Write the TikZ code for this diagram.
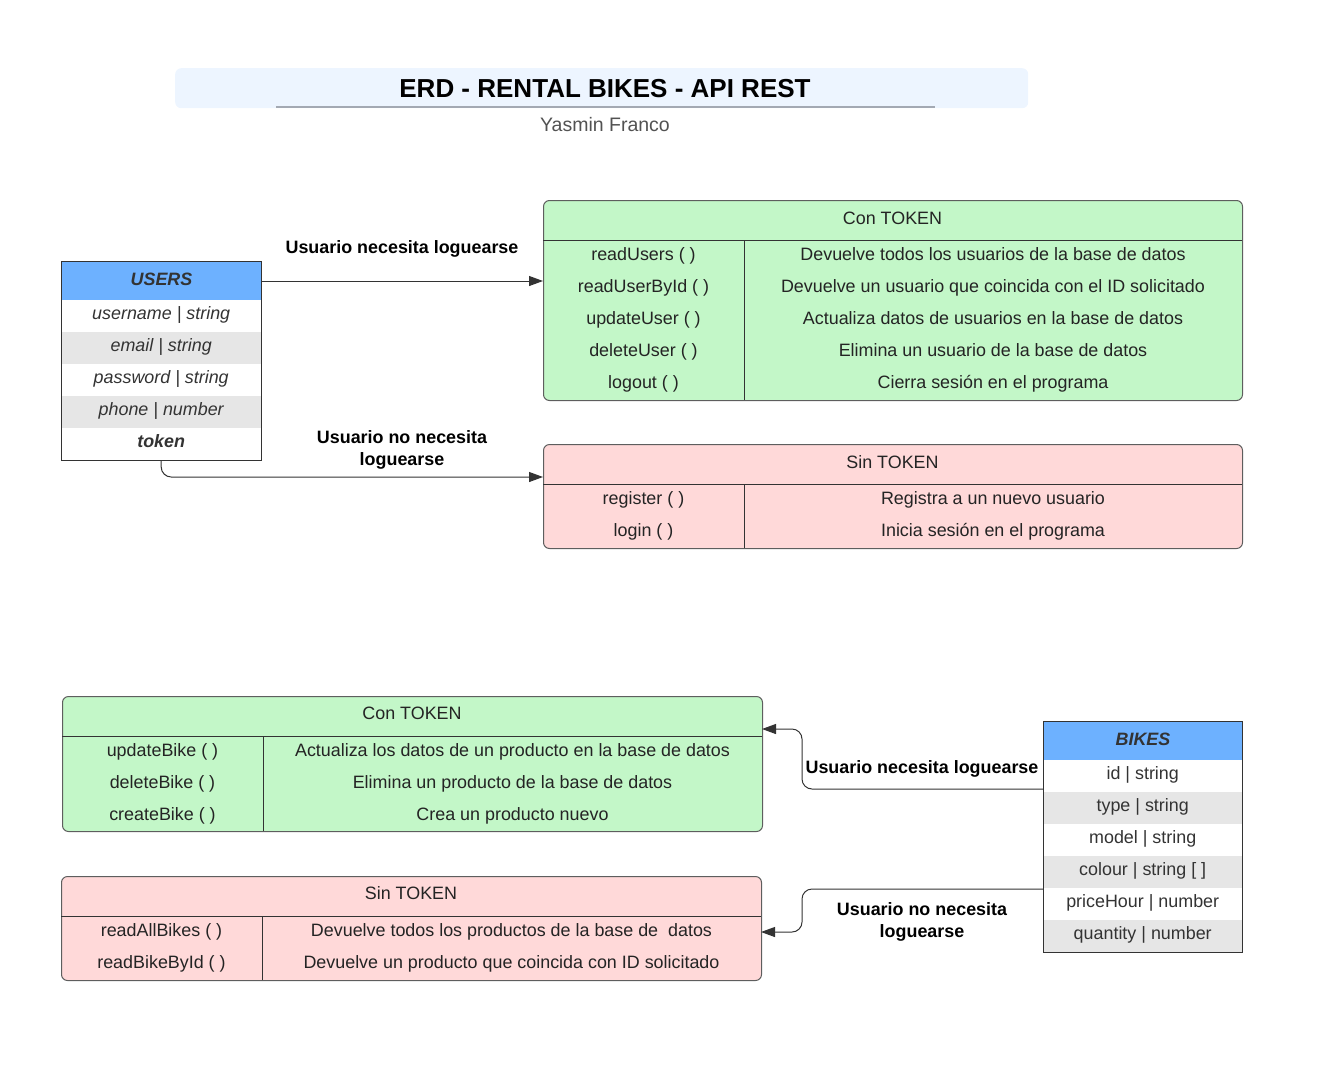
\documentclass[tikz,border=0pt]{standalone}
\usepackage{fontspec}
\setmainfont{Liberation Sans}
\usepackage{xcolor}
\usepackage{tikz}
\usetikzlibrary{arrows.meta}

\definecolor{titleBlue}{HTML}{EDF5FF}
\definecolor{hdrBlue}{HTML}{6DB1FF}
\definecolor{conGreen}{HTML}{C3F7C8}
\definecolor{sinPink}{HTML}{FFD9D9}
\definecolor{rowGray}{HTML}{E6E6E6}
\definecolor{txtGray}{HTML}{333333}
\definecolor{boxGray}{HTML}{5E5E5E}
\definecolor{ruleGray}{HTML}{A3A9B3}

\tikzset{
	txt/.style={font=\fontsize{17.9}{20}\selectfont, text=txtGray!70!black, inner sep=0.75pt},
	rowtxt/.style={txt, anchor=base},
	lbl/.style={font=\bfseries\fontsize{17.9}{22}\selectfont, align=center, inner sep=0.75pt},
	cell/.style={minimum width=200pt, minimum height=32pt, inner sep=0pt, anchor=north west, text=txtGray, text height=12.5pt, text depth=5.5pt, font=\fontsize{17.9}{20}\selectfont},
	hdr/.style={cell, draw=txtGray, line width=1pt, fill=hdrBlue, minimum height=39pt, text height=13pt, text depth=5pt, font=\bfseries\itshape\fontsize{17.9}{20}\selectfont},
	contab/.style={draw=boxGray, fill=conGreen, rounded corners=6pt, line width=1pt, inner sep=0pt, anchor=north west},
	sintab/.style={contab, fill=sinPink},
	sep/.style={draw=txtGray, line width=1pt},
	conn/.style={draw=txtGray, line width=1pt, rounded corners=10pt, -{Triangle[length=14pt,width=10pt]}},
}

\begin{document}
\begin{tikzpicture}[x=1pt,y=1pt,yscale=-1]
	\useasboundingbox (0,0) rectangle (1321,1076);
	
	%Title
	\node [fill=titleBlue, rounded corners=6pt, minimum width=853pt, minimum height=40pt, anchor=north west] (titlebox) at (175,68) {};
	\node [font=\bfseries\fontsize{26}{30}\selectfont] (title) at (605,89) {ERD - RENTAL BIKES - API REST};
	\draw [ruleGray, line width=1.5pt] (276,107) -- (935,107);
	\node [txt, text=txtGray!85!white, font=\fontsize{19.5}{22}\selectfont] (author) at (605,125) {Yasmin Franco};
	
	%Entity: USERS
	\node [hdr] (users) at (61,261) {USERS};
	\foreach \f/\c [count=\i] in {{username | string}/white, {email | string}/rowGray, {password | string}/white, {phone | number}/rowGray, {\textbf{token}}/white}
		\node [cell, fill=\c, font=\itshape\fontsize{17.9}{20}\selectfont] (users-\i) at (61,{300+32*(\i-1)}) {\f};
	\draw [sep] (users.north west) rectangle (users-5.south east);
	
	%Users: Con TOKEN
	\node [contab, minimum width=699pt, minimum height=200pt] (ucon) at (543,200) {};
	\node [txt] (ucon-t) at (892.5,218) {Con TOKEN};
	\draw [sep] (543,240) -- (1242,240) (744,240) -- (744,400);
	\foreach \m/\d [count=\i] in {readUsers ( )/Devuelve todos los usuarios de la base de datos, readUserById ( )/Devuelve un usuario que coincida con el ID solicitado, updateUser ( )/Actualiza datos de usuarios en la base de datos, deleteUser ( )/Elimina un usuario de la base de datos, logout ( )/Cierra sesión en el programa}
	{
		\node [rowtxt] (ucon-m\i) at (643.5,{260.5+32*(\i-1)}) {\m};
		\node [rowtxt] (ucon-d\i) at (993,{260.5+32*(\i-1)}) {\d};
	}
	
	%Users: Sin TOKEN
	\node [sintab, minimum width=699pt, minimum height=104pt] (usin) at (543,444) {};
	\node [txt] (usin-t) at (892.5,462) {Sin TOKEN};
	\draw [sep] (543,484) -- (1242,484) (744,484) -- (744,548);
	\foreach \m/\d [count=\i] in {register ( )/Registra a un nuevo usuario, login ( )/Inicia sesión en el programa}
	{
		\node [rowtxt] (usin-m\i) at (643.5,{504.5+32*(\i-1)}) {\m};
		\node [rowtxt] (usin-d\i) at (993,{504.5+32*(\i-1)}) {\d};
	}
	
	%Users connectors
	\coordinate (usin-in) at (543,477);
	\draw [conn] (users.east) -- (users.east -| ucon.west);
	\draw [conn] (users-5.south) |- (usin-in);
	\node [lbl] (lbl-u1) at (402,249) {Usuario necesita loguearse};
	\node [lbl] (lbl-u2) at (402,450) {Usuario no necesita\\loguearse};
	
	%Bikes: Con TOKEN
	\node [contab, minimum width=700pt, minimum height=135pt] (bcon) at (62,696) {};
	\node [txt] (bcon-t) at (412,713) {Con TOKEN};
	\draw [sep] (62,736) -- (762,736) (263,736) -- (263,831);
	\foreach \m/\d [count=\i] in {updateBike ( )/Actualiza los datos de un producto en la base de datos, deleteBike ( )/Elimina un producto de la base de datos, createBike ( )/Crea un producto nuevo}
	{
		\node [rowtxt] (bcon-m\i) at (162.5,{756.5+32*(\i-1)}) {\m};
		\node [rowtxt] (bcon-d\i) at (512.5,{756.5+32*(\i-1)}) {\d};
	}
	
	%Bikes: Sin TOKEN
	\node [sintab, minimum width=700pt, minimum height=104pt] (bsin) at (61,876) {};
	\node [txt] (bsin-t) at (411,893) {Sin TOKEN};
	\draw [sep] (61,916) -- (761,916) (262,916) -- (262,980);
	\foreach \m/\d [count=\i] in {readAllBikes ( )/Devuelve todos los productos de la base de~ datos, readBikeById ( )/Devuelve un producto que coincida con ID solicitado}
	{
		\node [rowtxt] (bsin-m\i) at (161.5,{936.5+32*(\i-1)}) {\m};
		\node [rowtxt] (bsin-d\i) at (511.5,{936.5+32*(\i-1)}) {\d};
	}
	
	%Entity: BIKES
	\node [hdr, minimum width=199pt] (bikes) at (1043,721) {BIKES};
	\foreach \f/\c [count=\i] in {{id | string}/white, {type | string}/rowGray, {model | string}/white, {colour | string [ ]}/rowGray, {priceHour | number}/white, {quantity | number}/rowGray}
		\node [cell, minimum width=199pt, fill=\c] (bikes-\i) at (1043,{760+32*(\i-1)}) {\f};
	\draw [sep] (bikes.north west) rectangle (bikes-6.south east);
	
	%Bikes connectors
	\coordinate (bk-out1) at (1043,789);
	\coordinate (bk-out2) at (1043,889);
	\coordinate (bcon-in) at (762,729);
	\coordinate (bsin-in) at (761,932);
	\draw [conn] (bk-out1) -| ([xshift=40pt]bcon-in) -- (bcon-in);
	\draw [conn] (bk-out2) -| ([xshift=41pt]bsin-in) -- (bsin-in);
	\node [lbl] (lbl-b1) at (922,769) {Usuario necesita loguearse};
	\node [lbl] (lbl-b2) at (922,922) {Usuario no necesita\\loguearse};
	
\end{tikzpicture}
\end{document}
